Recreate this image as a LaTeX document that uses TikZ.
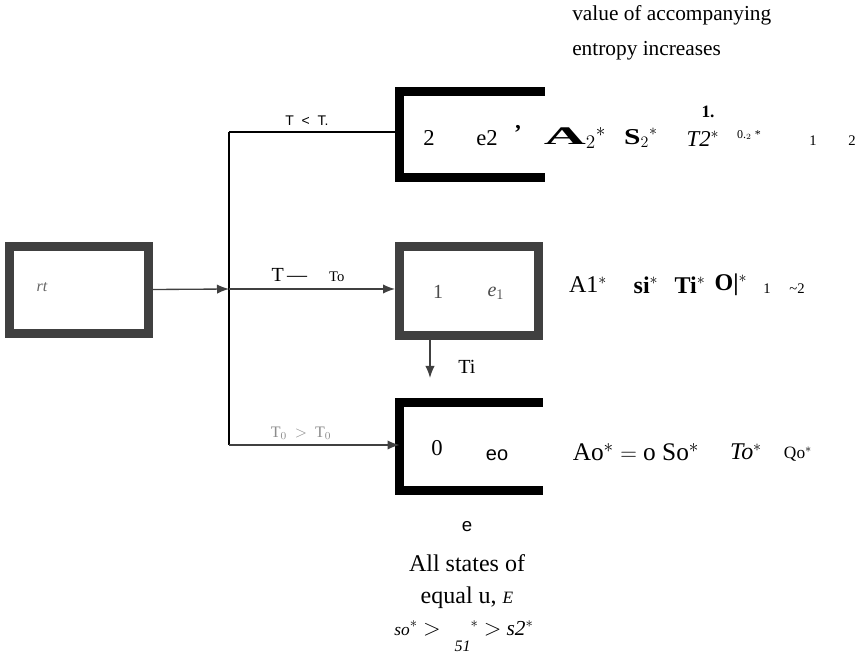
\documentclass[tikz,border=0pt]{standalone}
\usepackage{fontspec}
\setmainfont{Liberation Serif}
\setsansfont{Liberation Sans}
\usetikzlibrary{arrows.meta,positioning}

\begin{document}
\begin{tikzpicture}[
  x=0.75pt, y=-0.75pt,
  box/.style={rectangle, draw=black!75, line width=6.75pt, inner sep=0pt,
              minimum width=104.25pt, minimum height=65.25pt},
  open/.style={rectangle, inner sep=0pt, outer sep=0pt},
  bar/.style={line width=6.75pt, draw=black},
  arr/.style={-{Latex[length=9pt,width=7pt]}, draw=black!75, line width=1pt},
  wire/.style={draw=black, line width=1.1pt},
  lbl/.style={inner sep=1pt, font=\fontsize{17}{20}\selectfont},
  sml/.style={inner sep=1pt, font=\fontsize{9}{11}\selectfont},
  txt/.style={inner sep=0pt, font=\fontsize{16}{19}\selectfont}
]
\useasboundingbox[fill=white] (0,0) rectangle (865,659);

% boxes
\node[box] (src) at (79,290) {};
\node[box, minimum height=66.75pt] (state1) at (469,291) {};
\node[open, minimum width=109.1pt, minimum height=64.5pt] (state2) at (472.25,134.5) {};
\node[open, minimum width=107.6pt, minimum height=66pt] (state0) at (471.25,446.5) {};
\draw[bar] (state2.north east) -- (state2.north west) -- (state2.south west) -- (state2.south east);
\draw[bar] (state0.north east) -- (state0.north west) -- (state0.south west) -- (state0.south east);

% branching
\coordinate (jn) at (229,289);
\coordinate (c2) at (229,132);
\coordinate (c0) at (229,445);
\coordinate (t1) at (430,378);
\draw[arr] (src) -- (jn);
\draw[wire] (c2) -- (c0);
\draw[wire] (c2) -- (c2 -| state2.west);
\draw[arr] (jn) -- (jn -| state1.west);
\draw[arr] (c0) -- (c0 -| state0.west);
\draw[arr] (state1.south -| t1) -- (t1);

% connector labels
\node[sml, font=\sffamily\fontsize{10.5}{12}\selectfont] (l2) at (307,121) {T\ \ <\ \ T.};
\node[lbl, font=\fontsize{15}{18}\selectfont] (l1) at (308,275) {T\,—\hspace{1.1em}{\fontsize{11}{13}\selectfont To}};
\node[lbl, text=black!45, font=\fontsize{12}{14}\selectfont] (l0) at (301,433) {T$_{0}$ \ $>$ \ T$_{0}$};
\node[lbl, font=\fontsize{15}{18}\selectfont] (lt) at (467,367) {Ti};

% box contents
\node[lbl, text=black!60, font=\itshape\fontsize{12}{14}\selectfont] (rt) at (42,287) {rt};
\node[lbl, text=black!70, font=\fontsize{15}{18}\selectfont] (n1a) at (438,292) {1};
\node[lbl, text=black!70, font=\itshape\fontsize{15}{18}\selectfont] (n1b) at (496,293) {e$_1$};
\node[lbl] (n2a) at (429,138) {2};
\node[lbl] (n2b) at (487,138) {e2};
\node[lbl] (n2c) at (518,133) {\textbf{'}};
\node[lbl] (n0a) at (437,448) {0};
\node[lbl, font=\sffamily\fontsize{15}{18}\selectfont] (n0b) at (497,455) {eo};

% right hand terms, top row
\node[lbl, font=\fontsize{19}{22}\selectfont] (a2) at (575,138) {\scalebox{2.3}[1]{\bfseries A}$_{2}{}^{*}$};
\node[lbl, font=\fontsize{17}{20}\selectfont] (s2) at (641,138) {\scalebox{1.3}[1]{\bfseries S}$_{2}{}^{*}$};
\node[lbl] (t2) at (703,139) {\textit{T2}$^{*}$};
\node[lbl, font=\bfseries\fontsize{13}{15}\selectfont] (o2) at (708,112) {1.};
\node[sml] (q2) at (749,135) {0.$_{2}$ *};
\node[sml, font=\fontsize{11}{13}\selectfont] (m2a) at (813,141) {1};
\node[sml, font=\fontsize{11}{13}\selectfont] (m2b) at (852,141) {2};

% middle row
\node[lbl, font=\fontsize{18}{21}\selectfont] (a1) at (588,285) {A1$^{*}$};
\node[lbl, font=\fontsize{18}{21}\selectfont] (s1) at (646,285) {\textbf{si}$^{*}$};
\node[lbl, font=\fontsize{18}{21}\selectfont] (t1n) at (690,285) {\textbf{Ti}$^{*}$};
\node[lbl, font=\fontsize{18}{21}\selectfont] (q1) at (731,285) {\textbf{O|}$^{*}$};
\node[sml, font=\fontsize{11}{13}\selectfont] (m1a) at (767,289) {1};
\node[sml, font=\fontsize{11}{13}\selectfont] (m1b) at (797,289) {\textasciitilde2};

% bottom row
\node[lbl, font=\fontsize{19}{22}\selectfont] (a0) at (636,452) {Ao$^{*}$ $=$ o So$^{*}$};
\node[lbl, font=\fontsize{18}{21}\selectfont] (t0) at (746,452) {\textit{To}$^{*}$};
\node[lbl, font=\fontsize{13}{15}\selectfont] (q0) at (798,454) {Qo$^{*}$};

% notes
\node[txt, anchor=west] (up1) at (572,15) {value of accompanying};
\node[txt, anchor=west] (up2) at (572,51) {entropy increases};
\node[txt, font=\sffamily\fontsize{14}{17}\selectfont] (dn0) at (467,527) {e};
\node[txt, font=\fontsize{18}{21}\selectfont] (dn1) at (467,563) {All states of};
\node[txt, font=\fontsize{18}{21}\selectfont] (dn2) at (467,598) {equal u, {\itshape\fontsize{13}{15}\selectfont E}};
\node[txt, font=\itshape\fontsize{16}{19}\selectfont] (dn3) at (464,636)
  {{\fontsize{13}{15}\selectfont so}$^{*}$ $>$ \hspace{0.4em}\raisebox{-0.75em}{\fontsize{12}{14}\selectfont 51}$^{*}$ $>$ s2$^{*}$};
\end{tikzpicture}
\end{document}
